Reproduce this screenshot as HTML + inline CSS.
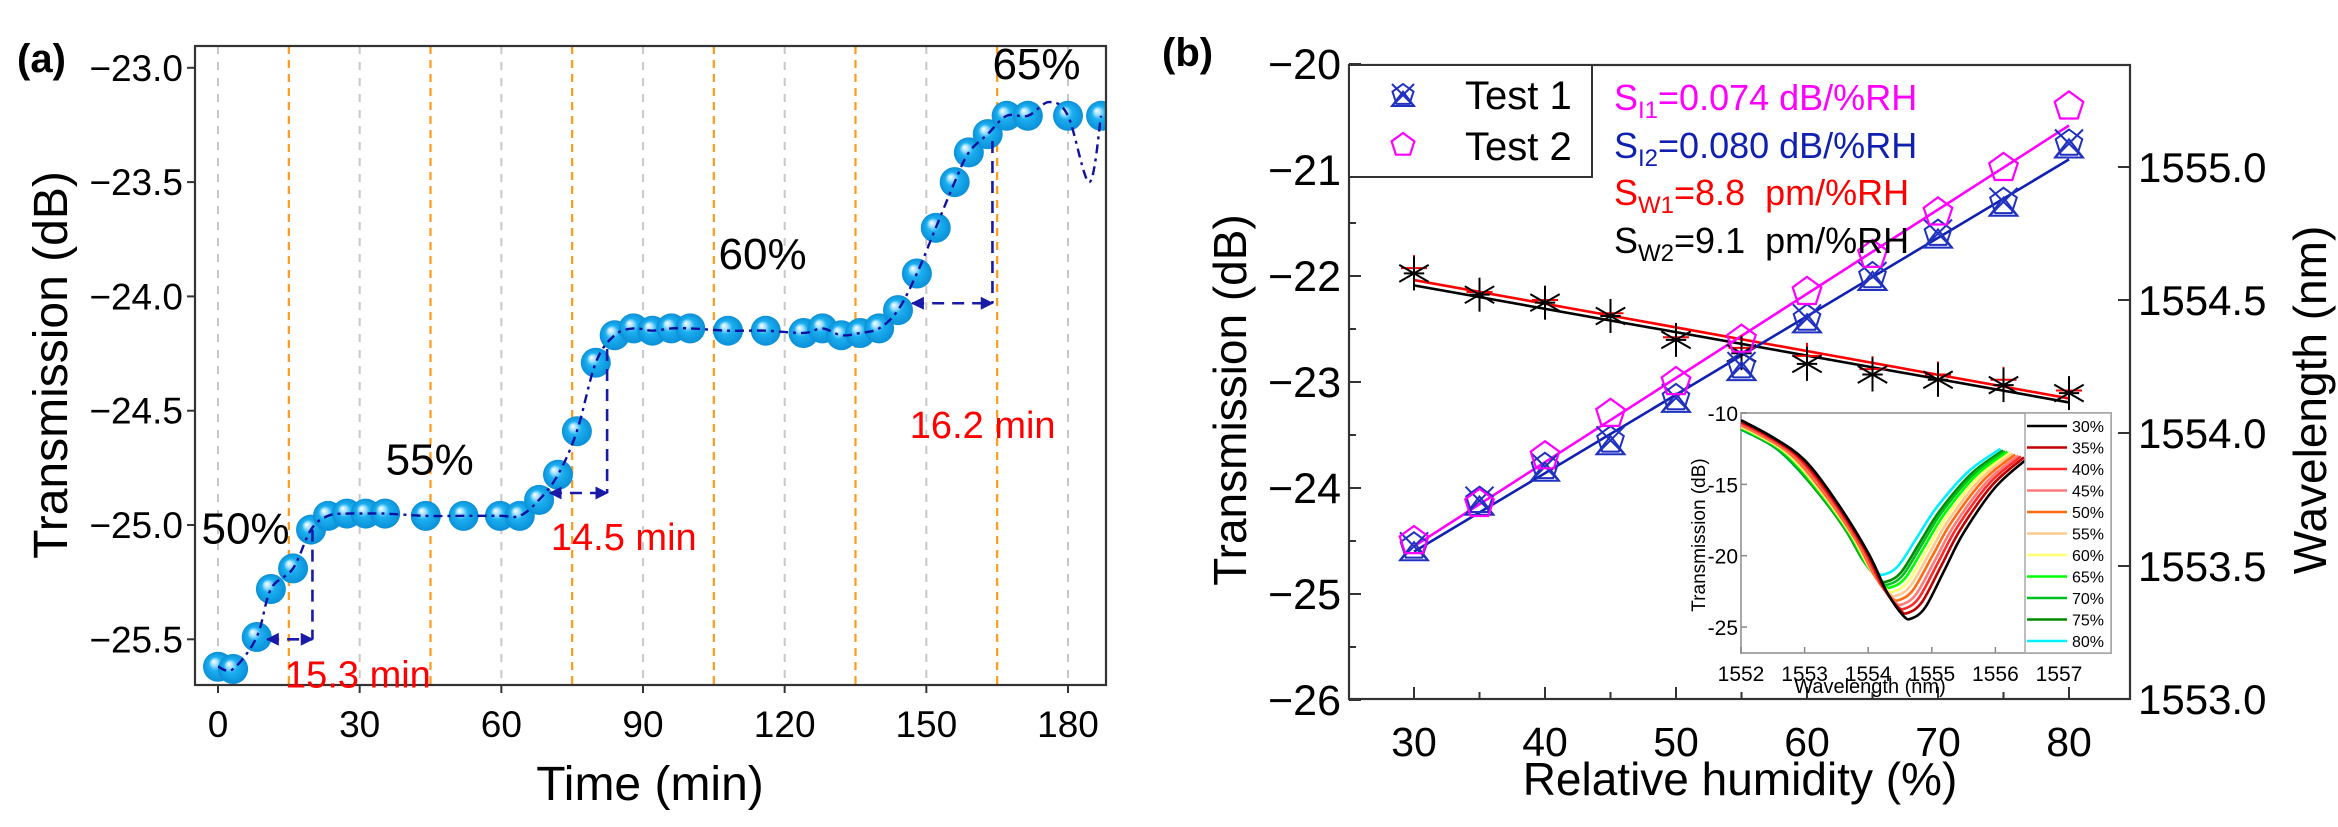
<!DOCTYPE html>
<html><head><meta charset="utf-8"><style>
html,body{margin:0;padding:0;background:#fff;}
svg{display:block;font-family:"Liberation Sans",Arial,sans-serif;}
</style></head><body>
<svg id="fig" width="2338" height="827" viewBox="0 0 2338 827" xmlns="http://www.w3.org/2000/svg">
<defs>
<radialGradient id="sph" cx="50%" cy="50%" r="50%" fx="35%" fy="32%">
<stop offset="0" stop-color="#ffffff"/><stop offset="0.22" stop-color="#9fe0ff"/><stop offset="0.45" stop-color="#1cb0f0"/><stop offset="1" stop-color="#0a8fd8"/>
</radialGradient>
<clipPath id="clipA"><rect x="195" y="46" width="911" height="639"/></clipPath>
<clipPath id="clipB"><rect x="1349" y="65" width="781" height="634"/></clipPath>
<clipPath id="clipI"><rect x="1741" y="413" width="284" height="240"/></clipPath>
<marker id="ah" viewBox="0 0 10 10" refX="9" refY="5" markerWidth="5" markerHeight="5" orient="auto-start-reverse"><path d="M0,0L10,5L0,10z" fill="#1a1aa8"/></marker>
</defs>
<g id="panelA"></g>
<g id="panelB"></g>
<g id="inset"></g>
</svg>
<script>
// ---------- Panel (a) data ----------
const timeMin = [0,3.2,8.2,11.2,15.9,19.7,23.3,27.3,31.3,35.4,44,52,59.7,63.9,68,72,76,80,84,88,92,96,100,108,116,124,128,132,136,140,144,148,152,156,159,163,167,171.5,180,187];
const transA = [-25.62,-25.63,-25.49,-25.28,-25.19,-25.02,-24.96,-24.95,-24.95,-24.95,-24.96,-24.96,-24.96,-24.96,-24.89,-24.78,-24.59,-24.29,-24.17,-24.14,-24.15,-24.14,-24.14,-24.15,-24.15,-24.16,-24.14,-24.17,-24.16,-24.14,-24.06,-23.90,-23.70,-23.50,-23.37,-23.29,-23.21,-23.21,-23.21,-23.21];
const extraLineT = [176,184.5];
const extraLineV = [-23.15,-23.5];
const xTicksA = [0,30,60,90,120,150,180];
const orangeLinesA = [15,45,75,105,135,165];
const yTicksA = [-23.0,-23.5,-24.0,-24.5,-25.0,-25.5];
const humidityLabelsA = ['50%','55%','60%','65%'];
const humidityPosT = [-3.5,35.5,106,164];
const humidityPosV = [-25.08,-24.78,-23.88,-23.05];
const respTimes = ['15.3 min','14.5 min','16.2 min'];
const respStartT = [10.4,70.3,147];
const respEndT = [20,82.4,164];
const respLevel = [-25.5,-24.86,-24.03];
const respTopV = [-25.02,-24.23,-23.32];
const respLabelT = [14.2,70.5,146.5];
const respLabelV = [-25.71,-25.11,-24.62];

// ---------- Panel (b) data ----------
const rh = [30,35,40,45,50,55,60,65,70,75,80];
const test1 = [-24.55,-24.12,-23.8,-23.55,-23.15,-22.85,-22.4,-22.0,-21.6,-21.3,-20.75];
const test2 = [-24.5,-24.15,-23.7,-23.3,-23.0,-22.6,-22.15,-21.8,-21.4,-20.98,-20.4];
const wl1 = [1554.62,1554.53,1554.50,1554.45,1554.36,1554.32,1554.29,1554.24,1554.22,1554.20,1554.16];
const wl2 = [1554.60,1554.52,1554.49,1554.44,1554.35,1554.30,1554.26,1554.22,1554.20,1554.18,1554.15];
const fit1 = [-24.6,-20.9];
const fit2 = [-24.55,-20.58];
const fitW1 = [1554.575,1554.13];
const fitW2 = [1554.555,1554.115];
const xTicksB = [30,40,50,60,70,80];
const yTicksB = [-20,-21,-22,-23,-24,-25,-26];
const yTicksR = [1555.0,1554.5,1554.0,1553.5,1553.0];

// ---------- Inset data ----------
const insetLabels = ['30%','35%','40%','45%','50%','55%','60%','65%','70%','75%','80%'];
const insetColors = ['#000000','#c00000','#ff2a2a','#ff7a7a','#ff6a10','#ffc890','#ffff70','#00ff00','#00c020','#008a00','#00f0ff'];
const dipCenter = [1554.68,1554.63,1554.58,1554.54,1554.49,1554.45,1554.41,1554.37,1554.33,1554.30,1554.26];
const dipDepth = [-24.4,-24.0,-23.7,-23.4,-23.1,-22.8,-22.5,-22.2,-22.0,-21.8,-21.3];
const profWl = [1552,1552.5,1553,1553.5,1554,1554.3,1554.55,1554.68,1554.9,1555.2,1555.5,1556,1556.5];
const profDb = [-10.5,-11.7,-13.3,-16.2,-19.8,-22.6,-24.2,-24.4,-23.6,-21.0,-18.4,-15.2,-13.2];
const xTicksI = [1552,1553,1554,1555,1556,1557];
const yTicksI = [-10,-15,-20,-25];

const NS='http://www.w3.org/2000/svg';
function mk(parent,tag,attrs,text){const e=document.createElementNS(NS,tag);for(const k in attrs)e.setAttribute(k,attrs[k]);if(text!==undefined)e.textContent=text;parent.appendChild(e);return e;}
function smooth(pts){let d='M'+pts[0][0]+','+pts[0][1];for(let i=0;i<pts.length-1;i++){const p0=pts[i-1]||pts[i],p1=pts[i],p2=pts[i+1],p3=pts[i+2]||p2;const c1x=p1[0]+(p2[0]-p0[0])/6,c1y=p1[1]+(p2[1]-p0[1])/6,c2x=p2[0]-(p3[0]-p1[0])/6,c2y=p2[1]-(p3[1]-p1[1])/6;d+=` C${c1x},${c1y} ${c2x},${c2y} ${p2[0]},${p2[1]}`;}return d;}
const fmtMinus=s=>String(s).replace('-','\u2212');

// ===== Panel A =====
(function(){
const g=document.getElementById('panelA');
const L=195,R=1106,T=46,B=685;
const xA=t=>218+t*(1068-218)/180;
const yA=v=>525-(v+25)*228.6;
mk(g,'text',{x:17,y:72,'font-size':40,'font-weight':'bold',},'(a)');
const grid=mk(g,'g',{});
xTicksA.forEach(t=>{const l=mk(grid,'line',{x1:xA(t),x2:xA(t),y1:T,y2:B,stroke:'#c8c8c8','stroke-width':2,'stroke-dasharray':'8,8'});});
orangeLinesA.forEach(t=>{const l=mk(grid,'line',{x1:xA(t),x2:xA(t),y1:T,y2:B,stroke:'#ff9a1a','stroke-width':2.2,'stroke-dasharray':'8,6'});});
const all=timeMin.map((t,i)=>[t,transA[i]]).concat(extraLineT.map((t,i)=>[t,extraLineV[i]])).sort((a,b)=>a[0]-b[0]);
const cg=mk(g,'g',{'clip-path':'url(#clipA)'});
timeMin.forEach((t,i)=>{const c=mk(cg,'circle',{cx:xA(t),cy:yA(transA[i]),r:15,fill:'url(#sph)'});});
const ln=mk(cg,'path',{d:smooth(all.map(p=>[xA(p[0]),yA(p[1])])),fill:'none',stroke:'#1010a0','stroke-width':2.4,'stroke-dasharray':'9,5,3,5'});

mk(g,'rect',{x:L,y:T,width:R-L,height:B-T,fill:'none',stroke:'#333','stroke-width':2.2,});
xTicksA.forEach(t=>{mk(g,'line',{x1:xA(t),x2:xA(t),y1:B,y2:B+8,stroke:'#333','stroke-width':2});const tx=mk(g,'text',{x:xA(t),y:B+52,'font-size':37,'text-anchor':'middle'},String(t));});
yTicksA.forEach(v=>{mk(g,'line',{x1:L-8,x2:L,y1:yA(v),y2:yA(v),stroke:'#333','stroke-width':2});const tx=mk(g,'text',{x:L-12,y:yA(v)+13,'font-size':37,'text-anchor':'end'},fmtMinus(v.toFixed(1)));});
mk(g,'text',{x:650,y:800,'font-size':48,'text-anchor':'middle',},'Time (min)');
mk(g,'text',{x:0,y:0,'font-size':48,'text-anchor':'middle',transform:'translate(67,365) rotate(-90)',},'Transmission (dB)');
humidityLabelsA.forEach((s,i)=>{const tx=mk(g,'text',{x:xA(humidityPosT[i]),y:yA(humidityPosV[i]),'font-size':44},s);});
respTimes.forEach((s,i)=>{
 const y=yA(respLevel[i]);
 const h=mk(g,'line',{x1:xA(respStartT[i]),x2:xA(respEndT[i]),y1:y,y2:y,stroke:'#1a1aa8','stroke-width':2.6,'stroke-dasharray':'12,8','marker-start':'url(#ah)','marker-end':'url(#ah)'});
 
 const v=mk(g,'line',{x1:xA(respEndT[i]),x2:xA(respEndT[i]),y1:yA(respTopV[i]),y2:y,stroke:'#1a1aa8','stroke-width':2.6,'stroke-dasharray':'12,8'});
 
 const tx=mk(g,'text',{x:xA(respLabelT[i]),y:yA(respLabelV[i]),'font-size':38,fill:'#ff0000'},s);
 
});
})();

// ===== Panel B =====
(function(){
const g=document.getElementById('panelB');
const L=1349,R=2130,T=65,B=699;
const xB=h=>1414+(h-30)*13.1;
const yB=v=>700-(v+26)*106;
const yW=w=>699-(w-1553)*266;
mk(g,'text',{x:1162,y:66,'font-size':40,'font-weight':'bold',},'(b)');
const cg=mk(g,'g',{'clip-path':'url(#clipB)'});
function fline(arr,yf,col,name){const l=mk(cg,'line',{x1:xB(30),x2:xB(80),y1:yf(arr[0]),y2:yf(arr[1]),stroke:col,'stroke-width':2.6});}
fline(fitW2,yW,'#000','fit-line-wavelength-2');
fline(fitW1,yW,'#ff0000','fit-line-wavelength-1');
fline(fit1,yB,'#1020b0','fit-line-test-1');
fline(fit2,yB,'#ff00ff','fit-line-test-2');
function pent(cx,cy,r){let p=[];for(let k=0;k<5;k++){const a=-Math.PI/2+k*2*Math.PI/5;p.push((cx+r*Math.cos(a)).toFixed(1)+','+(cy+r*Math.sin(a)).toFixed(1));}return p.join(' ');}
function m1(par,cx,cy,s){const gg=mk(par,'g',{stroke:'#2030c0','stroke-width':2,fill:'none'});mk(gg,'polygon',{points:pent(cx,cy,s)});mk(gg,'line',{x1:cx-s,y1:cy-s,x2:cx+s,y2:cy+s});mk(gg,'line',{x1:cx+s,y1:cy-s,x2:cx-s,y2:cy+s});mk(gg,'polygon',{points:`${cx},${cy-s*0.3} ${cx-s},${cy+s} ${cx+s},${cy+s}`});return gg;}
function m2(par,cx,cy,s){return mk(par,'polygon',{points:pent(cx,cy,s),stroke:'#ff00ff','stroke-width':2.2,fill:'none'});}
function ast(par,cx,cy,s,col){const gg=mk(par,'g',{stroke:col,'stroke-width':2});for(let k=0;k<3;k++){const a=Math.PI/2+k*Math.PI/3;mk(gg,'line',{x1:cx-s*Math.cos(a),y1:cy-s*Math.sin(a),x2:cx+s*Math.cos(a),y2:cy+s*Math.sin(a)});}mk(gg,'line',{x1:cx-s*0.6,x2:cx+s*0.6,y1:cy,y2:cy});return gg;}
function plus(par,cx,cy,s,col){const gg=mk(par,'g',{stroke:col,'stroke-width':2});mk(gg,'line',{x1:cx-s,x2:cx+s,y1:cy,y2:cy});mk(gg,'line',{x1:cx,x2:cx,y1:cy-s,y2:cy+s});return gg;}
rh.forEach((h,i)=>{
 const a=plus(cg,xB(h),yW(wl1[i]),13,'#ff0000');
 const b=ast(cg,xB(h),yW(wl2[i]),17,'#000');
 const c=m1(cg,xB(h),yB(test1[i]),14);
 const d=m2(cg,xB(h),yB(test2[i]),15);
});
mk(g,'rect',{x:L,y:T,width:R-L,height:B-T,fill:'none',stroke:'#333','stroke-width':2.2,});
for(let h=30;h<=80;h+=5){const maj=h%10===0;mk(g,'line',{x1:xB(h),x2:xB(h),y1:B,y2:B-(maj?12:7),stroke:'#333','stroke-width':2});}
xTicksB.forEach(h=>{const tx=mk(g,'text',{x:xB(h),y:B+57,'font-size':41,'text-anchor':'middle'},String(h));});
yTicksB.forEach(v=>{mk(g,'line',{x1:L,x2:L+12,y1:yB(v),y2:yB(v),stroke:'#333','stroke-width':2});if(v<-20)mk(g,'line',{x1:L,x2:L+7,y1:yB(v+0.5),y2:yB(v+0.5),stroke:'#333','stroke-width':2});const tx=mk(g,'text',{x:L-8,y:yB(v)+15,'font-size':43,'text-anchor':'end'},fmtMinus(v));});
yTicksR.forEach(w=>{mk(g,'line',{x1:R-12,x2:R,y1:yW(w),y2:yW(w),stroke:'#333','stroke-width':2});const tx=mk(g,'text',{x:R+8,y:yW(w)+15,'font-size':42},w.toFixed(1));});
mk(g,'text',{x:1740,y:795,'font-size':46,'text-anchor':'middle',},'Relative humidity (%)');
mk(g,'text',{x:0,y:0,'font-size':46,'text-anchor':'middle',transform:'translate(1246,400) rotate(-90)',},'Transmission (dB)');
mk(g,'text',{x:0,y:0,'font-size':46,'text-anchor':'middle',transform:'translate(2326,400) rotate(-90)',},'Wavelength (nm)');
const lg=mk(g,'g',{});
mk(lg,'rect',{x:L,y:T,width:1592-L,height:177-T,fill:'#fff',stroke:'#333','stroke-width':2});
const e1=m1(lg,1403,95,11);
const e2=m2(lg,1403,145,12);
mk(lg,'text',{x:1465,y:109,'font-size':40,},'Test 1');
mk(lg,'text',{x:1465,y:160,'font-size':40,},'Test 2');
const ann=[['#ff00ff','I1','=0.074 dB/%RH',110],['#1020b0','I2','=0.080 dB/%RH',158],['#ff0000','W1','=8.8\u00a0\u00a0pm/%RH',205],['#000000','W2','=9.1\u00a0\u00a0pm/%RH',253]];
ann.forEach(a=>{const t=mk(g,'text',{x:1614,y:a[3],'font-size':36,fill:a[0]});
 mk(t,'tspan',{},'S');mk(t,'tspan',{'font-size':24,dy:8},a[1]);mk(t,'tspan',{dy:-8},a[2]);});
})();

// ===== Inset =====
(function(){
const g=document.getElementById('inset');
const L=1741,R=2111,T=413,B=653;
const xI=w=>1741+(w-1552)*63.6;
const yI=v=>413-(v+10)*14.27;
mk(g,'rect',{x:L,y:T,width:R-L,height:B-T,fill:'#fff',stroke:'#a8a8a8','stroke-width':2,});
const cg=mk(g,'g',{'clip-path':'url(#clipI)'});
for(let i=insetLabels.length-1;i>=0;i--){
 const sc=(dipDepth[i]+10)/(-14.4), sh=dipCenter[i]-1554.68;
 const pts=profWl.map((w,k)=>[xI(w+sh),yI(-10+(profDb[k]+10)*sc)]);
 const p=mk(cg,'path',{d:smooth(pts),fill:'none',stroke:insetColors[i],'stroke-width':2.6});
 
}
xTicksI.forEach(w=>{mk(g,'line',{x1:xI(w),x2:xI(w),y1:B,y2:B-6,stroke:'#888','stroke-width':1.5});const tx=mk(g,'text',{x:xI(w),y:B+28,'font-size':21,'text-anchor':'middle'},String(w));});
yTicksI.forEach(v=>{mk(g,'line',{x1:L,x2:L+6,y1:yI(v),y2:yI(v),stroke:'#888','stroke-width':1.5});const tx=mk(g,'text',{x:L-3,y:yI(v)+8,'font-size':21,'text-anchor':'end'},String(v));});
mk(g,'text',{x:1870,y:693,'font-size':20,'text-anchor':'middle',},'Wavelength (nm)');
mk(g,'text',{x:0,y:0,'font-size':19,'text-anchor':'middle',transform:'translate(1705,535) rotate(-90)',},'Transmission (dB)');
const lg=mk(g,'g',{});
mk(lg,'rect',{x:2025,y:413,width:86,height:240,fill:'#fff',stroke:'#a8a8a8','stroke-width':1.5});
insetLabels.forEach((s,i)=>{const y=426+i*21.5;mk(lg,'line',{x1:2027,x2:2067,y1:y,y2:y,stroke:insetColors[i],'stroke-width':2.6});const t=mk(lg,'text',{x:2072,y:y+6,'font-size':16},s);});
})();
</script>
</body></html>
